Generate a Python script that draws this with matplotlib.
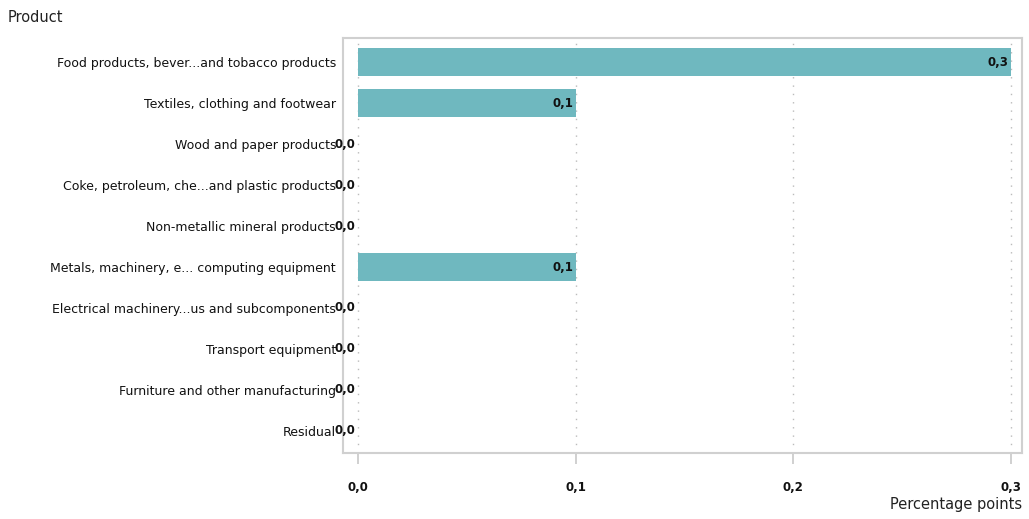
import matplotlib.pyplot as plt

products = ["Food products, bever...and tobacco products",
            "Textiles, clothing and footwear",
            "Wood and paper products",
            "Coke, petroleum, che...and plastic products",
            "Non-metallic mineral products",
            "Metals, machinery, e... computing equipment",
            "Electrical machinery...us and subcomponents",
            "Transport equipment",
            "Furniture and other manufacturing",
            "Residual"]
values = [0.3, 0.1, 0.0, 0.0, 0.0, 0.1, 0.0, 0.0, 0.0, 0.0]
xticks = [0.0, 0.1, 0.2, 0.3]

W, H = 1029, 519
fig = plt.figure(figsize=(W / 100, H / 100), dpi=100)
ax = fig.add_axes([343 / W, 1 - 453 / H, (1022 - 343) / W, (453 - 38) / H])

ypos = list(range(len(products)))
ax.barh(ypos, values, height=0.68, color="#6fb8bf", linewidth=0, zorder=2)
for y, v in zip(ypos, values):
    ax.annotate(f"{v:.1f}".replace(".", ","), (v, y), xytext=(-2, 0), textcoords="offset points",
                ha="right", va="center", fontsize=8.5, fontweight="bold",
                color="#111111", zorder=3)

ax.set_xlim(-0.0069, 0.305)
ax.set_ylim(9.54, -0.59)
ax.set_yticks(ypos)
ax.set_yticklabels(products, fontsize=9, color="#111111")
ax.tick_params(axis="y", length=0, pad=5)
ax.set_xticks(xticks)
ax.set_xticklabels([f"{t:.1f}".replace(".", ",") for t in xticks], fontsize=8.5,
                   fontweight="bold", color="#111111")
ax.tick_params(axis="x", length=8, color="#c8c8c8", width=1.2, pad=12)
ax.grid(axis="x", color="#bbbbbb", linestyle=(0, (1, 5)), linewidth=1, zorder=1)
for s in ax.spines.values():
    s.set_color("#d0d0d0")
    s.set_linewidth(1.5)

fig.text(8 / W, 1 - 17 / H, "Product", fontsize=10.5, color="#222222", va="center", ha="left")
fig.text(1022 / W, 1 - 505 / H, "Percentage points", fontsize=10.5, color="#222222",
         va="center", ha="right")

fig.savefig("out.png", dpi=100)
